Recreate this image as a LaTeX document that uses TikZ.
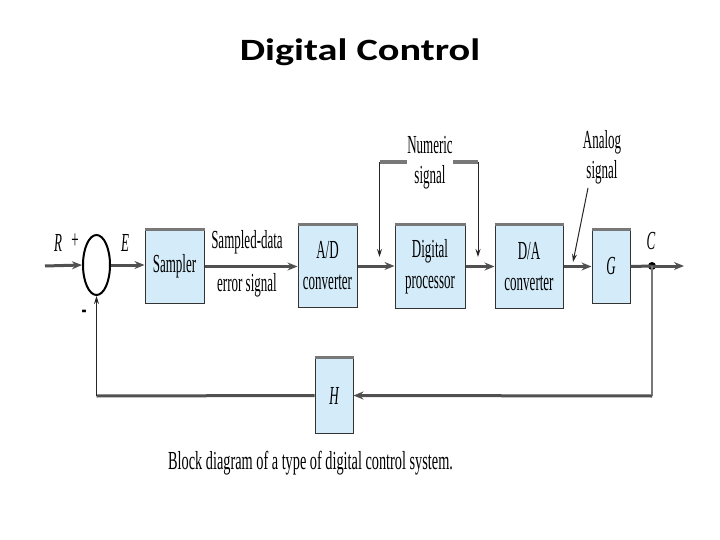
\documentclass[tikz,border=0pt]{standalone}
\usepackage{fontspec}
\usetikzlibrary{arrows.meta,shapes.geometric}
\setmainfont{Liberation Serif}
\newfontfamily\figfont{Liberation Serif}[FakeStretch=0.5]
\newfontfamily\capfont{Liberation Serif}[FakeStretch=0.55]
\newfontfamily\titlefont{Carlito}[FakeStretch=1.3]
\definecolor{blkfill}{RGB}{212,236,250}
\definecolor{wirecol}{RGB}{80,80,80}
\definecolor{edgecol}{RGB}{120,120,120}

\begin{document}
\begin{tikzpicture}[x=1pt,y=-1pt,
  blk/.style={draw=black!80,line width=1pt,fill=blkfill,inner sep=0pt,align=center,
    font=\figfont\fontsize{26}{31}\selectfont},
  lbl/.style={inner sep=0pt,align=center,font=\figfont\fontsize{26}{30}\selectfont},
  wire/.style={draw=wirecol,line width=3pt},
  slim/.style={draw=black!85,line width=1pt},
  tip/.style={-{Stealth[length=10pt,width=8pt]}},
  smalltip/.style={-{Stealth[length=8pt,width=5pt]}},
  topedge/.style={draw=edgecol,line width=3.5pt}]
  \useasboundingbox (0,0) rectangle (720,540);

  % title
  \node[font=\titlefont\bfseries\fontsize{31}{34}\selectfont] (title) at (360,52) {Digital Control};

  % blocks
  \node[draw=black,line width=2pt,ellipse,minimum width=27pt,minimum height=60pt,inner sep=0pt] (sum) at (96.5,265) {};
  \node[blk,minimum width=59pt,minimum height=73pt] (smp) at (174.5,266.5) {Sampler};
  \node[blk,minimum width=59pt,minimum height=82pt] (ad) at (327.5,266) {A/D\\converter};
  \node[blk,minimum width=70pt,minimum height=83pt] (dp) at (430,266.5) {Digital\\processor};
  \node[blk,minimum width=68pt,minimum height=83pt] (da) at (529,266.5) {D/A\\converter};
  \node[blk,minimum width=38pt,minimum height=73pt] (g) at (611,266.5) {\itshape G};
  \node[blk,minimum width=38pt,minimum height=75pt] (h) at (334,395.5) {\itshape H};
  \foreach \b in {smp,ad,dp,da,g,h}
    \draw[topedge] (\b.north west) -- (\b.north east);

  \coordinate (rin) at (45,266);
  \fill[black] (652,266) circle (4) coordinate (cdot);
  \coordinate (cout) at (684,266);
  \coordinate (fbr) at (652,396);
  \coordinate (fbl) at (96.5,396);

  % forward path
  \draw[wire,tip] (rin) -- (sum.west);
  \draw[wire,tip] (sum.east) -- (sum.east -| smp.west);
  \draw[wire,tip] (smp.east) -- (smp.east -| ad.west);
  \draw[wire,tip] (ad.east) -- (ad.east -| dp.west);
  \draw[wire,tip] (dp.east) -- (dp.east -| da.west);
  \draw[wire,tip] (da.east) -- (da.east -| g.west);
  \draw[wire] (g.east) -- (cdot);
  \draw[wire,tip] (cdot) -- (cout);

  % feedback path
  \draw[draw=edgecol,line width=1.5pt] (cdot) -- (fbr);
  \draw[wire,tip] (fbr) -- (h.east);
  \draw[wire] (h.west) -- (fbl);
  \draw[slim,smalltip] (fbl) -- (sum.south);

  % signal labels
  \node[lbl,font=\figfont\itshape\fontsize{26}{30}\selectfont] (rlab) at (58,243) {R};
  \node[lbl] (plus) at (75,241) {+};
  \node[lbl,font=\figfont\bfseries\fontsize{30}{30}\selectfont] (minus) at (84,314) {-};
  \node[lbl,font=\figfont\itshape\fontsize{26}{30}\selectfont] (elab) at (125,243) {E};
  \node[lbl,font=\figfont\itshape\fontsize{26}{30}\selectfont] (clab) at (651,241) {C};
  \node[lbl] (sdtop) at (247,242) {Sampled-data};
  \node[lbl] (sdbot) at (247,285) {error signal};

  % numeric signal
  \node[lbl] (num) at (430,163) {Numeric\\signal};
  \coordinate (nl) at (379.5,162);
  \coordinate (nr) at (478,162);
  \draw[topedge] (nl) -- (407,162);
  \draw[topedge] (453,162) -- (nr);
  \draw[slim,smalltip] (nl) -- (379.5,257);
  \draw[slim,smalltip] (nr) -- (478,257);

  % analog signal
  \node[lbl] (ana) at (602,157) {Analog\\signal};
  \coordinate (ana0) at (588,188);
  \draw[slim,smalltip] (ana0) -- (573,262);

  % caption
  \node[lbl,anchor=west,font=\capfont\fontsize{26}{30}\selectfont] (cap) at (168,463) {Block diagram of a type of digital control system.};
\end{tikzpicture}
\end{document}
